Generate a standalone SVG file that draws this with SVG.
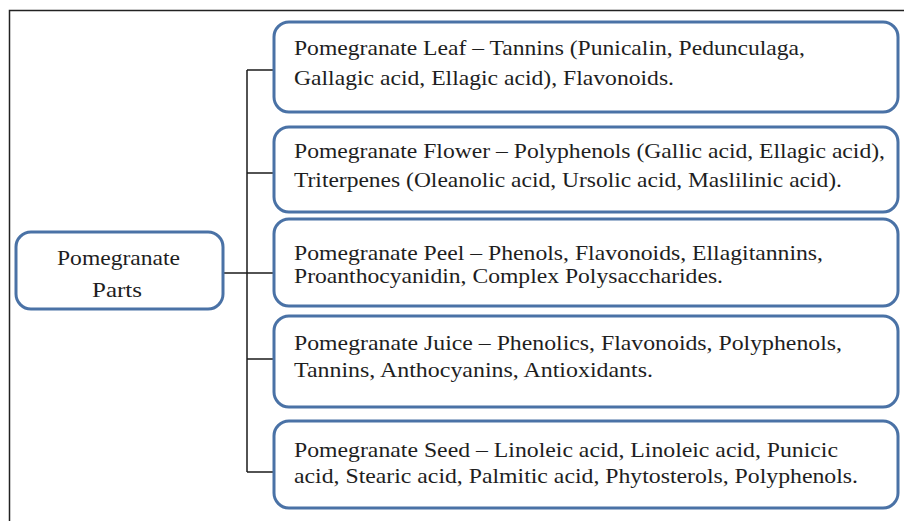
<svg xmlns="http://www.w3.org/2000/svg" width="904" height="521" viewBox="0 0 904 521">
<style>
.box{fill:#ffffff;stroke:#4a72a6;stroke-width:3}
.t{font-family:"Liberation Serif","Times New Roman",serif;font-size:21px;fill:#1e1e1e}
.c{fill:none;stroke:#1a1a1a;stroke-width:1.5}
</style>
<rect width="904" height="521" fill="#ffffff"/>
<path d="M9.5,521 V10.5 H904" fill="none" stroke="#222" stroke-width="1.5"/>
<g id="connectors">
<path class="c" d="M247,70 V472"/>
<path class="c" d="M247,70 H274"/>
<path class="c" d="M247,173 H274"/>
<path class="c" d="M223,273 H274"/>
<path class="c" d="M247,359 H274"/>
<path class="c" d="M247,472 H274"/>
</g>
<g id="root">
<rect class="box" x="16" y="232" width="207" height="77" rx="15"/>
<text class="t" x="57" y="265" textLength="123" lengthAdjust="spacingAndGlyphs">Pomegranate</text>
<text class="t" x="92" y="297" textLength="50" lengthAdjust="spacingAndGlyphs">Parts</text>
</g>
<g id="leaf">
<rect class="box" x="274" y="22" width="624" height="90" rx="15"/>
<text class="t" x="294" y="55" textLength="511" lengthAdjust="spacingAndGlyphs">Pomegranate Leaf – Tannins (Punicalin, Pedunculaga,</text>
<text class="t" x="294" y="85" textLength="380" lengthAdjust="spacingAndGlyphs">Gallagic acid, Ellagic acid), Flavonoids.</text>
</g>
<g id="flower">
<rect class="box" x="274" y="127" width="624" height="85" rx="15"/>
<text class="t" x="294" y="158" textLength="591" lengthAdjust="spacingAndGlyphs">Pomegranate Flower – Polyphenols (Gallic acid, Ellagic acid),</text>
<text class="t" x="294" y="187" textLength="548" lengthAdjust="spacingAndGlyphs">Triterpenes (Oleanolic acid, Ursolic acid, Maslilinic acid).</text>
</g>
<g id="peel">
<rect class="box" x="274" y="219" width="624" height="87" rx="15"/>
<text class="t" x="294" y="260" textLength="529" lengthAdjust="spacingAndGlyphs">Pomegranate Peel – Phenols, Flavonoids, Ellagitannins,</text>
<text class="t" x="294" y="283" textLength="429" lengthAdjust="spacingAndGlyphs">Proanthocyanidin, Complex Polysaccharides.</text>
</g>
<g id="juice">
<rect class="box" x="274" y="316" width="624" height="91" rx="15"/>
<text class="t" x="294" y="350" textLength="548" lengthAdjust="spacingAndGlyphs">Pomegranate Juice – Phenolics, Flavonoids, Polyphenols,</text>
<text class="t" x="294" y="377" textLength="359" lengthAdjust="spacingAndGlyphs">Tannins, Anthocyanins, Antioxidants.</text>
</g>
<g id="seed">
<rect class="box" x="274" y="421" width="624" height="87" rx="15"/>
<text class="t" x="294" y="457" textLength="544" lengthAdjust="spacingAndGlyphs">Pomegranate Seed – Linoleic acid, Linoleic acid, Punicic</text>
<text class="t" x="294" y="483" textLength="564" lengthAdjust="spacingAndGlyphs">acid, Stearic acid, Palmitic acid, Phytosterols, Polyphenols.</text>
</g>
</svg>
